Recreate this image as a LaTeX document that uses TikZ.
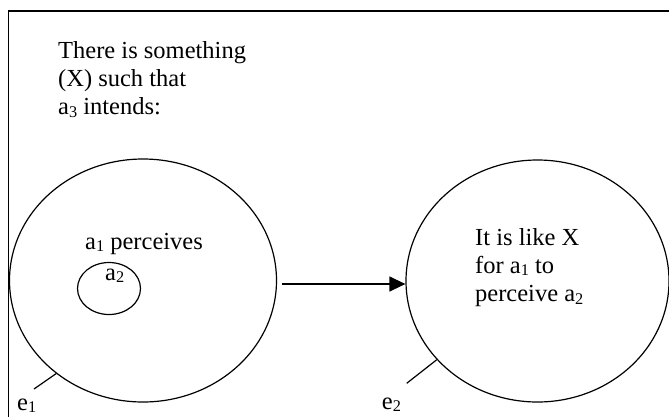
\documentclass[tikz,border=0pt]{standalone}
\usepackage{fontspec}
\setmainfont{Liberation Serif}
\usetikzlibrary{shapes.geometric,arrows.meta}
\newcommand{\mysub}[1]{\raisebox{-2.5pt}{\fontsize{16.3}{16.3}\selectfont #1}}
\begin{document}
\begin{tikzpicture}[x=1pt,y=-1pt,
  ell/.style={draw,ellipse,inner sep=0pt,line width=1.2pt},
  lbl/.style={inner sep=0pt,anchor=base west,font=\fontsize{24.5}{28.3}\selectfont},
  thin/.style={line width=1.2pt},
  arr/.style={line width=1.2pt,-{Triangle[length=16pt,width=15pt]}}]
\useasboundingbox (0,0) rectangle (669,416);
% frame
\draw[line width=1.5pt] (8.3,420) -- (8.3,11) -- (672,11);
% top text
\node[lbl] (top1) at (58,58.3) {There is something};
\node[lbl] (top2) at (58,86.6) {(X) such that};
\node[lbl] (top3) at (58,114.9) {a\mysub{3} intends:};
% ellipses
\node[ell,minimum width=267pt,minimum height=243pt] (E1) at (143,280.5) {};
\node[ell,minimum width=263pt,minimum height=242pt] (E2) at (537.5,281) {};
\node[ell,minimum width=63pt,minimum height=52pt] (C) at (109,288.5) {};
% texts inside
\node[lbl] (t1) at (85,249) {a\mysub{1} perceives};
\node[lbl] (t2) at (105,280) {a\mysub{2}};
\node[lbl] (r1) at (475,245) {It is like X};
\node[lbl] (r2) at (475,273.3) {for a\mysub{1} to};
\node[lbl] (r3) at (475,301.6) {perceive a\mysub{2}};
% arrow
\coordinate (A0) at (282,284);
\draw[arr] (A0) -- (A0 -| E2.west);
% ticks and labels
\coordinate (k1) at (34,389);
\coordinate (k2) at (406.7,383.3);
\draw[thin] (k1) -- (E1.227);
\draw[thin] (k2) -- (E2.218);
\node[lbl] (e1) at (17,410) {e\mysub{1}};
\node[lbl] (e2) at (381.7,409) {e\mysub{2}};
\end{tikzpicture}
\end{document}
